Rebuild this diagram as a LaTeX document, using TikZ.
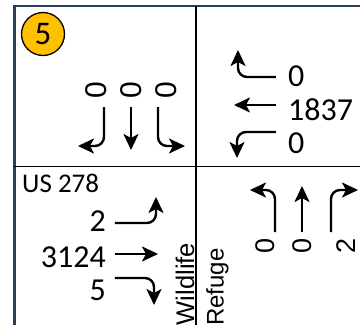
\documentclass[tikz,border=0pt]{standalone}
\usepackage{fontspec}
\setmainfont{Carlito}
\newfontfamily\arialf{Liberation Sans}
\usetikzlibrary{arrows.meta}
\definecolor{frameblue}{RGB}{44,62,95}
\definecolor{badgegold}{RGB}{255,192,0}
\tikzset{
  frm/.style  ={draw=frameblue, line width=2.6pt},
  grd/.style  ={draw=black, line width=1.5pt},
  mv/.style   ={draw=black, line width=2.4pt, rounded corners=9pt, -{Stealth[length=16pt,width=15pt,inset=4pt]}},
  cnt/.style  ={font=\fontsize{32}{34}\selectfont, inner sep=0pt},
  cntr/.style ={font=\arialf\fontsize{27}{29}\selectfont, inner sep=0pt, rotate=90},
  strt/.style ={font=\arialf\fontsize{24}{26}\selectfont, inner sep=0pt, rotate=90},
  badge/.style={circle, draw=black, line width=1.3pt, fill=badgegold, minimum size=43pt, inner sep=0pt, font=\fontsize{33}{35}\selectfont},
}
\begin{document}
\begin{tikzpicture}[x=1pt,y=-1pt]
  \useasboundingbox (0,0) rectangle (360,325);
  \clip (0,0) rectangle (360,325);
  % frame and quadrants
  \draw[frm] (14.5,400) |- (400,6);
  \draw[grd] (196,6) -- (196,400);
  \draw[grd] (14.5,166.5) -- (400,166.5);
  \node[badge] (num) at (43,34) {5};
  % southbound
  \node[cntr,font=\arialf\fontsize{30}{32}\selectfont] (sbR) at (96,90) {0};
  \node[cntr,font=\arialf\fontsize{30}{32}\selectfont] (sbT) at (131,90) {0};
  \node[cntr,font=\arialf\fontsize{30}{32}\selectfont] (sbL) at (166,90) {0};
  \draw[mv] (104,107) -- (104,146) -- (78,146);
  \draw[mv] (131,107) -- (131,150);
  \draw[mv] (158,107) -- (158,146) -- (185,146);
  % westbound
  \node[cnt,anchor=west] (wbR) at (288,76) {0};
  \node[cnt,anchor=west] (wbT) at (288,110) {1837};
  \node[cnt,anchor=west] (wbL) at (288,143) {0};
  \draw[mv] (276,77) -- (238,77) -- (238,50);
  \draw[mv] (276,105) -- (234,105);
  \draw[mv] (276,132) -- (237,132) -- (237,158);
  % eastbound
  \node[font=\fontsize{27}{29}\selectfont,inner sep=0pt,anchor=west] (rd) at (22,183) {US 278};
  \node[cnt,anchor=east] (ebL) at (106,221) {2};
  \node[cnt,anchor=east] (ebT) at (106,257) {3124};
  \node[cnt,anchor=east] (ebR) at (106,290) {5};
  \draw[mv] (115,223) -- (156,223) -- (156,197);
  \draw[mv] (115,254) -- (158,254);
  \draw[mv] (115,278) -- (154,278) -- (154,305);
  % northbound
  \node[strt,font=\arialf\fontsize{25.5}{27}\selectfont] (wl) at (185,284) {Wildlife};
  \node[strt] (rf) at (217.5,287) {Refuge};
  \node[cntr] (nbL) at (265,246) {0};
  \node[cntr] (nbT) at (302,246) {0};
  \node[cntr] (nbR) at (346,246) {2};
  \draw[mv] (275,232) -- (275,190) -- (250,190);
  \draw[mv] (302,232) -- (302,186);
  \draw[mv] (331,232) -- (331,190) -- (358,190);
\end{tikzpicture}
\end{document}
